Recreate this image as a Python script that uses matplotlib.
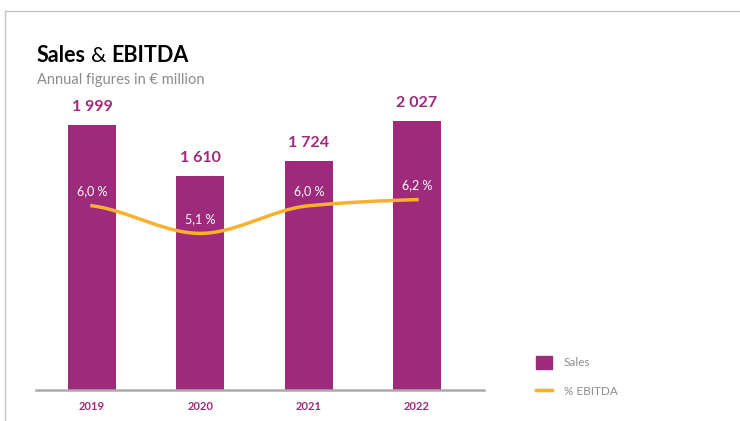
#!/usr/bin/env python3

import numpy as np
import matplotlib.pyplot as plt
from matplotlib.lines import Line2D
from matplotlib.patches import Patch

years = ["2019", "2020", "2021", "2022"]
sales = [1999, 1610, 1724, 2027]
sales_labels = ["1 999", "1 610", "1 724", "2 027"]
ebitda = [6.0, 5.1, 6.0, 6.2]
ebitda_labels = ["6,0 %", "5,1 %", "6,0 %", "6,2 %"]

purple = "#9e2a7b"
orange = "#f9b12d"
grey = "#8c8c8c"

plt.rcParams['font.family'] = ['Lato', 'DejaVu Sans']


def pchip(x, y, xs):
    # monotone cubic, same idea as the smoothed line in the original
    x = np.asarray(x, float)
    y = np.asarray(y, float)
    h = np.diff(x)
    d = np.diff(y) / h
    m = np.zeros_like(y)
    for i in range(1, len(y) - 1):
        if d[i - 1] * d[i] > 0:
            m[i] = 2 / (1 / d[i - 1] + 1 / d[i])
    m[0] = 0.5 * d[0]
    m[-1] = 0.5 * d[-1]
    out = np.empty_like(xs)
    for j, xv in enumerate(xs):
        i = min(int(np.searchsorted(x, xv, side='right') - 1), len(x) - 2)
        i = max(i, 0)
        t = (xv - x[i]) / h[i]
        h00 = 2 * t**3 - 3 * t**2 + 1
        h10 = t**3 - 2 * t**2 + t
        h01 = -2 * t**3 + 3 * t**2
        h11 = t**3 - t**2
        out[j] = h00 * y[i] + h10 * h[i] * m[i] + h01 * y[i + 1] + h11 * h[i] * m[i + 1]
    return out


fig = plt.figure(figsize=(7.4, 4.21), dpi=100)
ax = fig.add_axes([36 / 740, 31 / 421, 448 / 740, 300 / 421])
ax2 = ax.twinx()

x = np.arange(len(years))
ax.bar(x, sales, width=0.443, color=purple, zorder=2)
for xi, v, lab in zip(x, sales, sales_labels):
    ax.annotate(lab, (xi, v), xytext=(0, 8), textcoords='offset points',
                ha='center', va='bottom', color=purple, fontsize=11.5,
                fontweight='bold')

xs = np.linspace(0, 3, 200)
ax2.plot(xs, pchip(x, ebitda, xs), color=orange, lw=2.5, zorder=3)
for xi, v, lab in zip(x, ebitda, ebitda_labels):
    ax2.annotate(lab, (xi, v), xytext=(0, 10.5), textcoords='offset points',
                 ha='center', va='center', color='white', fontsize=9)

ax.set_xlim(-0.517, 3.618)
ax.set_ylim(0, 2262)
ax2.set_ylim(0, 9.77)
ax2.set_zorder(ax.get_zorder() + 1)
ax2.patch.set_visible(False)

for a in (ax, ax2):
    for s in a.spines.values():
        s.set_visible(False)
    a.set_yticks([])
ax.spines['bottom'].set_visible(True)
ax.spines['bottom'].set_color('#aaaaaa')
ax.spines['bottom'].set_linewidth(1.8)
ax.set_xticks(x)
ax.set_xticklabels(years, color=purple, fontsize=8, fontweight='bold')
ax.tick_params(axis='x', length=0, pad=8)

# title: "Sales" and "EBITDA" bold, "&" regular
ty = 1 - 62 / 421
t1 = fig.text(37 / 740, ty, "Sales", fontsize=15.5, fontweight='bold',
              color='black', va='baseline')
fig.canvas.draw()
x1 = t1.get_window_extent().x1 + 5
t2 = fig.text(x1 / 740, ty, "&", fontsize=15.5, color='black', va='baseline')
fig.canvas.draw()
x2 = t2.get_window_extent().x1 + 5
fig.text(x2 / 740, ty, "EBITDA", fontsize=15.5, fontweight='bold',
         color='black', va='baseline')
fig.text(37 / 740, 1 - 84 / 421, "Annual figures in € million", fontsize=10.5,
         color=grey, va='baseline')

handles = [Patch(color=purple), Line2D([0], [0], color=orange, lw=2.5)]
fig.legend(handles, ["Sales", "% EBITDA"], loc='upper left',
           bbox_to_anchor=(525 / 740, 1 - 345 / 421), frameon=False,
           fontsize=8.5, labelcolor=grey, handlelength=1.4,
           handleheight=1.4, labelspacing=1.3, handletextpad=1.0)

fig.add_artist(Line2D([5 / 740, 1], [1 - 11 / 421, 1 - 11 / 421],
                      color='#c4c4c4', lw=1))
fig.add_artist(Line2D([5 / 740, 5 / 740], [0, 1 - 11 / 421],
                      color='#c4c4c4', lw=1))

fig.savefig("out.png", dpi=100)
